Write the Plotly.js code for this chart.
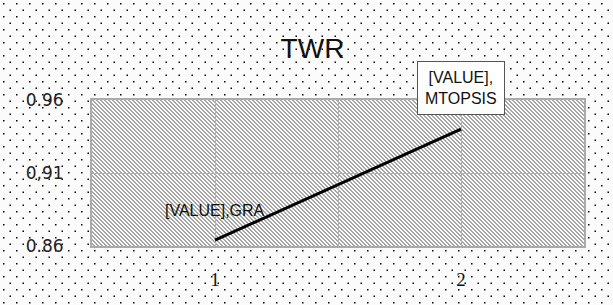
<!DOCTYPE html>
<html>
<head>
<meta charset="utf-8">
<script src="https://cdn.plot.ly/plotly-3.0.1.min.js"></script>
<style>
html,body{margin:0;padding:0;}
body{
  width:613px;height:305px;overflow:hidden;background-color:#fbfbfb;
  background-image:url("data:image/svg+xml;utf8,<svg xmlns='http://www.w3.org/2000/svg' width='13' height='13'><rect x='3' y='3' width='1.5' height='1.5' fill='%23000'/><rect x='9.5' y='9.5' width='1.5' height='1.5' fill='%23000'/></svg>");
  background-size:13px 13px;
}
#wrap{position:relative;width:613px;height:305px;}
#hatch{position:absolute;left:92px;top:100px;width:492px;height:146px;
  background-color:#fdfdfd;
  background-image:url("data:image/svg+xml;utf8,<svg xmlns='http://www.w3.org/2000/svg' width='4' height='4' shape-rendering='crispEdges'><rect x='0' y='0' width='1' height='1' fill='%23a6a6a6'/><rect x='1' y='0' width='1' height='1' fill='%23a6a6a6'/><rect x='1' y='1' width='1' height='1' fill='%23a6a6a6'/><rect x='2' y='1' width='1' height='1' fill='%23a6a6a6'/><rect x='2' y='2' width='1' height='1' fill='%23a6a6a6'/><rect x='3' y='2' width='1' height='1' fill='%23a6a6a6'/><rect x='3' y='3' width='1' height='1' fill='%23a6a6a6'/><rect x='0' y='3' width='1' height='1' fill='%23a6a6a6'/></svg>");
  background-size:4px 4px;}
#chart{position:absolute;left:0;top:0;width:613px;height:305px;}
</style>
</head>
<body>
<div id="wrap"><div id="hatch"></div><div id="chart"></div></div>
<script>
var categories = [1, 2];
var twrValues = [0.864, 0.940];
var pointLabels = ["[VALUE],GRA", "[VALUE],<br>MTOPSIS"];
var yTickVals = [0.86, 0.91, 0.96];
var yTickText = ["0.86", "0,91", "0.96"];
var xTickVals = [1, 1.5, 2];
var xTickText = ["1", "", "2"];

var trace = {
  x: categories, y: twrValues, type: 'scatter', mode: 'lines',
  line: {color: '#000', width: 3}, hoverinfo: 'skip', showlegend: false
};

var annotations = [
  {x: categories[0], y: twrValues[0], text: pointLabels[0], showarrow: false,
   xanchor: 'center', yanchor: 'middle', yshift: 30,
   font: {family: 'Liberation Sans, Arial, sans-serif', size: 16, color: '#111'}},
  {x: categories[1], y: twrValues[1], text: pointLabels[1], showarrow: false,
   xanchor: 'center', yanchor: 'middle', yshift: 41,
   bgcolor: '#ffffff', bordercolor: '#555', borderwidth: 1, borderpad: 7,
   font: {family: 'Liberation Sans, Arial, sans-serif', size: 16, color: '#111'}}
];

var layout = {
  width: 613, height: 305,
  margin: {l: 92, r: 29, t: 100, b: 59},
  paper_bgcolor: 'rgba(0,0,0,0)', plot_bgcolor: 'rgba(0,0,0,0)',
  title: {text: 'TWR', x: 312.5/613, xanchor: 'center', y: 1 - 48/305, yanchor: 'middle',
          font: {family: 'Liberation Sans, Arial, sans-serif', size: 28, color: '#111'}},
  xaxis: {range: [0.5, 2.5], tickvals: xTickVals, ticktext: xTickText,
          showgrid: true, gridcolor: '#b4b4b4', gridwidth: 1, zeroline: false,
          showline: true, linecolor: '#aaa', linewidth: 2, mirror: true,
          ticks: '', ticklabelstandoff: 15,
          tickfont: {family: 'Liberation Serif, Times New Roman, serif', size: 19, color: '#111'}},
  yaxis: {range: [0.86, 0.96], tickvals: yTickVals, ticktext: yTickText,
          showgrid: true, gridcolor: '#b4b4b4', gridwidth: 1, zeroline: false,
          showline: true, linecolor: '#aaa', linewidth: 2, mirror: true,
          ticks: '', ticklabelstandoff: 23,
          tickfont: {family: 'DejaVu Sans, sans-serif', size: 17, color: '#222'}},
  annotations: annotations
};

Plotly.newPlot('chart', [trace], layout, {displayModeBar: false, staticPlot: true});
</script>
</body>
</html>
